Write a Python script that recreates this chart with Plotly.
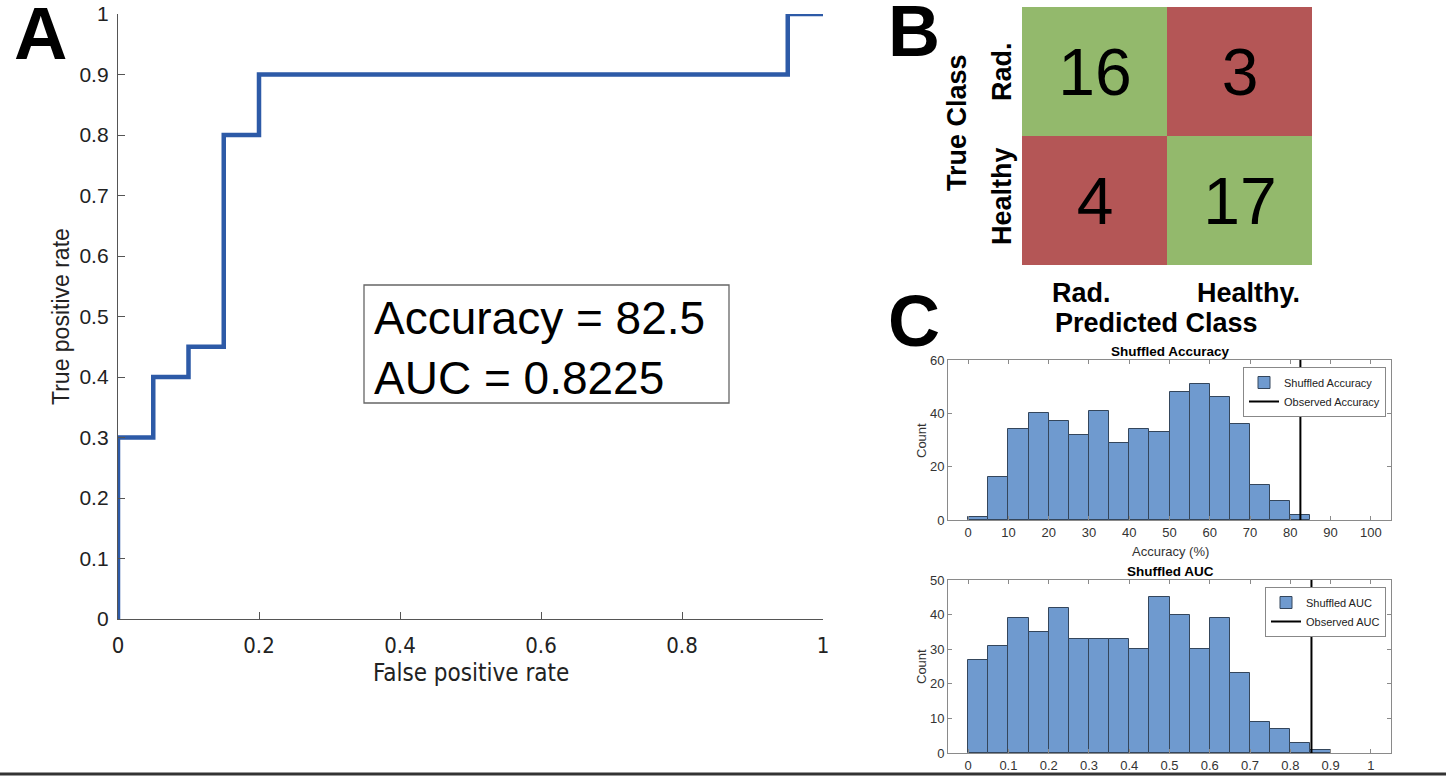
import plotly.graph_objects as go

# ==============================================================
# DATA
# ==============================================================

# ROC curve (panel A)
fpr = [0, 0, 0.05, 0.05, 0.10, 0.10, 0.15, 0.15, 0.20, 0.20, 0.95, 0.95, 1.0]
tpr = [0, 0.30, 0.30, 0.40, 0.40, 0.45, 0.45, 0.80, 0.80, 0.90, 0.90, 1.0, 1.0]
accuracy = 82.5
auc = 0.8225

# confusion matrix (panel B), rows = true class, cols = predicted class
true_labels = ["Rad.", "Healthy"]
pred_labels = ["Rad.", "Healthy."]
counts = [[16, 3],
          [4, 17]]

# shuffled accuracy histogram (panel C, top)
acc_bin_centers = [2.5, 7.5, 12.5, 17.5, 22.5, 27.5, 32.5, 37.5, 42.5,
                   47.5, 52.5, 57.5, 62.5, 67.5, 72.5, 77.5, 82.5]
acc_counts = [1, 16, 34, 40, 37, 32, 41, 29, 34, 33, 48, 51, 46, 36, 13, 7, 2]
observed_acc = 82.5

# shuffled AUC histogram (panel C, bottom)
auc_bin_centers = [0.025, 0.075, 0.125, 0.175, 0.225, 0.275, 0.325, 0.375,
                   0.425, 0.475, 0.525, 0.575, 0.625, 0.675, 0.725, 0.775,
                   0.825, 0.875]
auc_counts = [27, 31, 39, 35, 42, 33, 33, 33, 30, 45, 40, 30, 39, 23, 9, 7, 3, 1]
observed_auc = 0.8525

W, H = 1446, 777


# helpers: pixel position in the picture -> paper coordinates
def px_x(x):
    return x / W


def px_y(y):
    return 1 - y / H


BAR_FILL = "#6f9acf"
BAR_EDGE = "#34465c"
GREEN = "#93b96c"
RED = "#b45656"
NARROW = "Liberation Sans Narrow, DejaVu Sans Condensed, Liberation Sans, Arial"

fig = go.Figure()

# --------------------------------------------------------------
# A: ROC curve
# --------------------------------------------------------------
fig.add_trace(go.Scatter(x=fpr, y=tpr, mode="lines", showlegend=False,
                         line=dict(color="#2d5aa7", width=4.5),
                         xaxis="x", yaxis="y"))

# --------------------------------------------------------------
# B: confusion matrix
# --------------------------------------------------------------
correct = [[1 if i == j else 0 for j in range(2)] for i in range(2)]
fig.add_trace(go.Heatmap(z=correct, x=pred_labels, y=true_labels,
                         text=counts, texttemplate="%{text}",
                         textfont=dict(size=66, color="black",
                                       family="Liberation Sans, Arial"),
                         colorscale=[[0, RED], [1, GREEN]], showscale=False,
                         hoverinfo="skip", xaxis="x2", yaxis="y2"))

# --------------------------------------------------------------
# C: shuffled histograms
# --------------------------------------------------------------
fig.add_trace(go.Bar(x=acc_bin_centers, y=acc_counts, width=5,
                     name="Shuffled Accuracy", legend="legend",
                     marker=dict(color=BAR_FILL, line=dict(color=BAR_EDGE, width=1)),
                     xaxis="x3", yaxis="y3"))
fig.add_trace(go.Scatter(x=[observed_acc, observed_acc], y=[0, 60], mode="lines",
                         name="Observed Accuracy", legend="legend",
                         line=dict(color="black", width=2),
                         xaxis="x3", yaxis="y3"))

fig.add_trace(go.Bar(x=auc_bin_centers, y=auc_counts, width=0.05,
                     name="Shuffled AUC", legend="legend2",
                     marker=dict(color=BAR_FILL, line=dict(color=BAR_EDGE, width=1)),
                     xaxis="x4", yaxis="y4"))
fig.add_trace(go.Scatter(x=[observed_auc, observed_auc], y=[0, 50], mode="lines",
                         name="Observed AUC", legend="legend2",
                         line=dict(color="black", width=2),
                         xaxis="x4", yaxis="y4"))

# ==============================================================
# LAYOUT
# ==============================================================
roc_axis = dict(showline=True, linecolor="#555", linewidth=1.3, ticks="inside",
                ticklen=7, tickcolor="#555", showgrid=False, zeroline=False,
                automargin=False)
hist_axis = dict(showline=True, linecolor="#8a8a8a", linewidth=1, mirror="ticks",
                 ticks="inside", ticklen=4, tickcolor="#8a8a8a", showgrid=False,
                 zeroline=False, automargin=False,
                 tickfont=dict(size=13, color="#333"))
plain_axis = dict(showticklabels=False, showgrid=False, zeroline=False,
                  ticks="", automargin=False)

fig.update_layout(
    width=W, height=H, margin=dict(l=0, r=0, t=0, b=0),
    paper_bgcolor="white", plot_bgcolor="white",
    font=dict(family="Liberation Sans, Arial", color="black"),
    bargap=0,
    xaxis=dict(roc_axis, domain=[px_x(118), px_x(823)], range=[0, 1],
               tickvals=[0, 0.2, 0.4, 0.6, 0.8, 1],
               ticktext=["0", "0.2", "0.4", "0.6", "0.8", "1"],
               tickfont=dict(size=22, family=NARROW, color="#222"),
               ticklabelstandoff=6),
    yaxis=dict(roc_axis, domain=[px_y(619), px_y(14)], range=[0, 1],
               tickvals=[0, 0.1, 0.2, 0.3, 0.4, 0.5, 0.6, 0.7, 0.8, 0.9, 1],
               ticktext=["0", "0.1", "0.2", "0.3", "0.4", "0.5", "0.6", "0.7",
                         "0.8", "0.9", "1"],
               tickfont=dict(size=21, color="#222"), ticklabelstandoff=4),
    xaxis2=dict(plain_axis, domain=[px_x(1022), px_x(1312)]),
    yaxis2=dict(plain_axis, domain=[px_y(265), px_y(7)], autorange="reversed"),
    xaxis3=dict(hist_axis, domain=[px_x(948), px_x(1391)], range=[-5, 105],
                dtick=10, tick0=0, anchor="y3"),
    yaxis3=dict(hist_axis, domain=[px_y(520), px_y(360)], range=[0, 60],
                dtick=20, anchor="x3"),
    xaxis4=dict(hist_axis, domain=[px_x(948), px_x(1391)], range=[-0.05, 1.05],
                tickvals=[0, 0.1, 0.2, 0.3, 0.4, 0.5, 0.6, 0.7, 0.8, 0.9, 1],
                ticktext=["0", "0.1", "0.2", "0.3", "0.4", "0.5", "0.6", "0.7",
                          "0.8", "0.9", "1"], anchor="y4"),
    yaxis4=dict(hist_axis, domain=[px_y(753), px_y(580)], range=[0, 50],
                dtick=10, anchor="x4"),
    legend=dict(x=px_x(1386), y=px_y(367), xanchor="right", yanchor="top",
                bgcolor="white", bordercolor="#888", borderwidth=1,
                font=dict(size=11, color="#222"), tracegroupgap=0,
                itemwidth=30),
    legend2=dict(x=px_x(1386), y=px_y(587), xanchor="right", yanchor="top",
                 bgcolor="white", bordercolor="#888", borderwidth=1,
                 font=dict(size=11, color="#222"), tracegroupgap=0,
                 itemwidth=30),
)

# text box with metrics
fig.add_shape(type="rect", xref="paper", yref="paper",
              x0=px_x(364), x1=px_x(729), y0=px_y(403), y1=px_y(285),
              line=dict(color="#666", width=1.3), fillcolor="white", layer="below")

annotations = [
    # panel letters
    dict(text="<b>A</b>", x=px_x(12), y=px_y(34), xanchor="left", yanchor="middle",
         font=dict(size=74)),
    dict(text="<b>B</b>", x=px_x(886), y=px_y(31), xanchor="left", yanchor="middle",
         font=dict(size=72)),
    dict(text="<b>C</b>", x=px_x(886), y=px_y(321), xanchor="left", yanchor="middle",
         font=dict(size=72)),
    # metrics text
    dict(text=f"Accuracy = {accuracy}<br>AUC = {auc}", x=px_x(372), y=px_y(348),
         xanchor="left", yanchor="middle", align="left",
         font=dict(size=46, color="black")),
    # ROC axis titles
    dict(text="True positive rate", x=px_x(61), y=px_y(317), textangle=-90,
         xanchor="center", yanchor="middle", font=dict(size=23, color="#222")),
    dict(text="False positive rate", x=px_x(471), y=px_y(673),
         xanchor="center", yanchor="middle",
         font=dict(size=24, family=NARROW, color="#222")),
    # confusion matrix labels
    dict(text="<b>True Class</b>", x=px_x(957), y=px_y(123), textangle=-90,
         xanchor="center", yanchor="middle", font=dict(size=27)),
    dict(text="<b>" + true_labels[0] + "</b>", x=px_x(1002), y=px_y(72), textangle=-90,
         xanchor="center", yanchor="middle", font=dict(size=27)),
    dict(text="<b>" + true_labels[1] + "</b>", x=px_x(1002), y=px_y(196), textangle=-90,
         xanchor="center", yanchor="middle", font=dict(size=27)),
    dict(text="<b>" + pred_labels[0] + "</b>", x=px_x(1081), y=px_y(293),
         xanchor="center", yanchor="middle", font=dict(size=27)),
    dict(text="<b>" + pred_labels[1] + "</b>", x=px_x(1248), y=px_y(293),
         xanchor="center", yanchor="middle", font=dict(size=27)),
    dict(text="<b>Predicted Class</b>", x=px_x(1156), y=px_y(323),
         xanchor="center", yanchor="middle", font=dict(size=27)),
    # histogram titles and axis labels
    dict(text="<b>Shuffled Accuracy</b>", x=px_x(1170), y=px_y(351),
         xanchor="center", yanchor="middle", font=dict(size=13.5)),
    dict(text="Accuracy (%)", x=px_x(1170), y=px_y(551),
         xanchor="center", yanchor="middle", font=dict(size=13, color="#333")),
    dict(text="Count", x=px_x(921), y=px_y(440), textangle=-90,
         xanchor="center", yanchor="middle", font=dict(size=13, color="#333")),
    dict(text="<b>Shuffled AUC</b>", x=px_x(1170), y=px_y(571),
         xanchor="center", yanchor="middle", font=dict(size=13.5)),
    dict(text="Count", x=px_x(921), y=px_y(666), textangle=-90,
         xanchor="center", yanchor="middle", font=dict(size=13, color="#333")),
]
for a in annotations:
    a.update(xref="paper", yref="paper", showarrow=False)
fig.update_layout(annotations=annotations)

# frame line at the bottom of the picture
fig.add_shape(type="line", xref="paper", yref="paper", x0=0, x1=1,
              y0=px_y(774), y1=px_y(774), line=dict(color="#333", width=3))

# the page's default body margin would shift the figure by 8px
fig.write_html("out.html", config={"displayModeBar": False},
               post_script="document.body.style.margin='0';"
                           "document.body.style.overflow='hidden';")
